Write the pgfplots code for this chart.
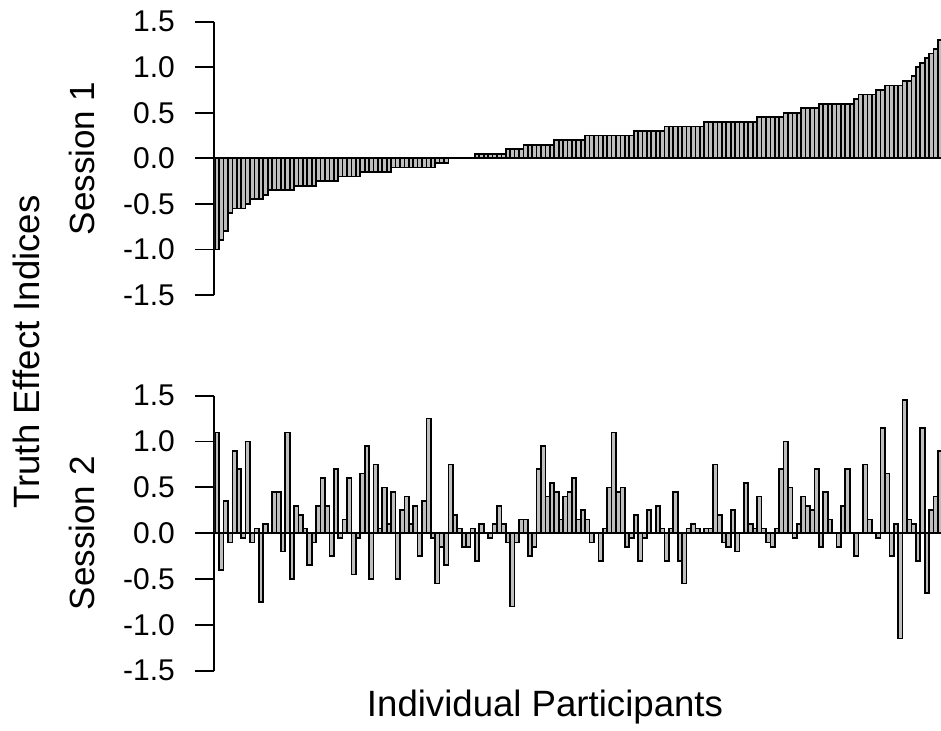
\documentclass[border=0pt]{standalone}
\usepackage{fontspec}
\setmainfont{Liberation Sans}
\usepackage{pgfplots}
\pgfplotsset{compat=1.18}
\definecolor{barfill}{HTML}{BEBEBE}

\pgfplotsset{
  panel/.style={
    scale only axis, width=363.35pt,
    xmin=0.4, xmax=165.2, ymin=-1.5, ymax=1.5,
    axis x line=none, axis y line*=left,
    tick align=outside, major tick length=9.5pt,
    ytick={-1.5,-1,-0.5,0,0.5,1,1.5},
    yticklabels={-1.5,-1.0,-0.5,0.0,0.5,1.0,1.5},
    yticklabel style={font=\fontsize{15}{18}\selectfont, inner sep=0pt, xshift=-10pt},
    axis line style={black, line width=0.9pt},
    tick style={black, line width=0.9pt},
    every axis y label/.style={at={(axis description cs:-0.1814,0.5)}, rotate=90,
      anchor=center, font=\fontsize{17.5}{20}\selectfont},
    ybar, bar width=1,
  },
  bars/.style={fill=barfill, draw=black, line width=0.85pt},
}

\begin{document}
\begin{tikzpicture}[x=1pt,y=1pt]
\useasboundingbox (0,0) rectangle (470.5,365.5);

% Session 1 (sorted)
\begin{axis}[panel, at={(107.15pt,218pt)}, anchor=south west, height=136.65pt,
  ylabel={Session 1}]
\addplot[bars] coordinates {
(1,-1.0) (2,-0.9) (3,-0.8) (4,-0.6) (5,-0.55) (6,-0.55) (7,-0.55) (8,-0.5)
(9,-0.45) (10,-0.45) (11,-0.45) (12,-0.4)
(13,-0.35) (14,-0.35) (15,-0.35) (16,-0.35) (17,-0.35) (18,-0.35)
(19,-0.3) (20,-0.3) (21,-0.3) (22,-0.3) (23,-0.3)
(24,-0.25) (25,-0.25) (26,-0.25) (27,-0.25) (28,-0.25)
(29,-0.2) (30,-0.2) (31,-0.2) (32,-0.2) (33,-0.2)
(34,-0.15) (35,-0.15) (36,-0.15) (37,-0.15) (38,-0.15) (39,-0.15) (40,-0.15)
(41,-0.1) (42,-0.1) (43,-0.1) (44,-0.1) (45,-0.1) (46,-0.1) (47,-0.1) (48,-0.1) (49,-0.1) (50,-0.1)
(51,-0.05) (52,-0.05) (53,-0.05)
(54,0) (55,0) (56,0) (57,0) (58,0) (59,0)
(60,0.05) (61,0.05) (62,0.05) (63,0.05) (64,0.05) (65,0.05) (66,0.05)
(67,0.1) (68,0.1) (69,0.1) (70,0.1)
(71,0.15) (72,0.15) (73,0.15) (74,0.15) (75,0.15) (76,0.15) (77,0.15)
(78,0.2) (79,0.2) (80,0.2) (81,0.2) (82,0.2) (83,0.2) (84,0.2)
(85,0.25) (86,0.25) (87,0.25) (88,0.25) (89,0.25) (90,0.25) (91,0.25) (92,0.25) (93,0.25) (94,0.25) (95,0.25)
(96,0.3) (97,0.3) (98,0.3) (99,0.3) (100,0.3) (101,0.3) (102,0.3)
(103,0.35) (104,0.35) (105,0.35) (106,0.35) (107,0.35) (108,0.35) (109,0.35) (110,0.35) (111,0.35)
(112,0.4) (113,0.4) (114,0.4) (115,0.4) (116,0.4) (117,0.4) (118,0.4) (119,0.4) (120,0.4) (121,0.4) (122,0.4) (123,0.4)
(124,0.45) (125,0.45) (126,0.45) (127,0.45) (128,0.45) (129,0.45)
(130,0.5) (131,0.5) (132,0.5) (133,0.5)
(134,0.55) (135,0.55) (136,0.55) (137,0.55)
(138,0.6) (139,0.6) (140,0.6) (141,0.6) (142,0.6) (143,0.6) (144,0.6) (145,0.6)
(146,0.65) (147,0.7) (148,0.7) (149,0.7) (150,0.7) (151,0.75) (152,0.75)
(153,0.8) (154,0.8) (155,0.8) (156,0.8) (157,0.85) (158,0.85)
(159,0.9) (160,1.0) (161,1.05) (162,1.1) (163,1.15) (164,1.2) (165,1.3)
};
\end{axis}

% Session 2 (same participant order)
\begin{axis}[panel, at={(107.15pt,30.15pt)}, anchor=south west, height=137.5pt,
  ylabel={Session 2}]
\addplot[bars] coordinates {
(1,1.1) (2,-0.4) (3,0.35) (4,-0.1) (5,0.9) (6,0.7) (7,-0.05) (8,1.0) (9,-0.1) (10,0.05)
(11,-0.75) (12,0.1) (13,0) (14,0.45) (15,0.45) (16,-0.2) (17,1.1) (18,-0.5) (19,0.3) (20,0.2)
(21,0.05) (22,-0.35) (23,-0.1) (24,0.3) (25,0.6) (26,0.3) (27,-0.25) (28,0.7) (29,-0.05) (30,0.15)
(31,0.6) (32,-0.45) (33,-0.05) (34,0.65) (35,0.95) (36,-0.5) (37,0.75) (38,0.05) (39,0.5) (40,0.1)
(41,0.45) (42,-0.5) (43,0.25) (44,0.4) (45,0.1) (46,0.3) (47,-0.25) (48,0.35) (49,1.25) (50,-0.05)
(51,-0.55) (52,-0.15) (53,-0.35) (54,0.75) (55,0.2) (56,0.05) (57,-0.15) (58,-0.15) (59,0.05) (60,-0.3)
(61,0.1) (62,0) (63,-0.05) (64,0.1) (65,0.3) (66,0.1) (67,-0.1) (68,-0.8) (69,-0.1) (70,0.15)
(71,0.15) (72,-0.25) (73,-0.15) (74,0.7) (75,0.95) (76,0.4) (77,0.55) (78,0.45) (79,0.15) (80,0.4)
(81,0.45) (82,0.6) (83,0.15) (84,0.25) (85,0.15) (86,-0.1) (87,0) (88,-0.3) (89,0.05) (90,0.5)
(91,1.1) (92,0.45) (93,0.5) (94,-0.15) (95,-0.05) (96,0.2) (97,-0.3) (98,-0.05) (99,0.25) (100,0)
(101,0.3) (102,0.05) (103,-0.3) (104,0.05) (105,0.45) (106,-0.3) (107,-0.55) (108,0.05) (109,0.1) (110,0.05)
(111,0) (112,0.05) (113,0.05) (114,0.75) (115,0.2) (116,-0.1) (117,-0.15) (118,0.25) (119,-0.2) (120,0)
(121,0.55) (122,0.1) (123,0.05) (124,0.4) (125,0.05) (126,-0.1) (127,-0.15) (128,0.05) (129,0.7) (130,1.0)
(131,0.5) (132,-0.05) (133,0.1) (134,0.4) (135,0.3) (136,0.25) (137,0.7) (138,-0.15) (139,0.45) (140,0.15)
(141,0) (142,-0.15) (143,0.3) (144,0.7) (145,0) (146,-0.25) (147,0) (148,0.75) (149,0.15) (150,0)
(151,-0.05) (152,1.15) (153,0.65) (154,-0.25) (155,0.1) (156,-1.15) (157,1.45) (158,0.15) (159,0.1) (160,-0.3)
(161,1.15) (162,-0.65) (163,0.25) (164,0.4) (165,0.9)
};
\end{axis}

\node[rotate=90, anchor=center, font=\fontsize{18.3}{21}\selectfont] at (13.25,189.5) {Truth Effect Indices};
\node[anchor=base, font=\fontsize{18.3}{21}\selectfont] at (272.5,7.15) {Individual Participants};
\end{tikzpicture}
\end{document}
